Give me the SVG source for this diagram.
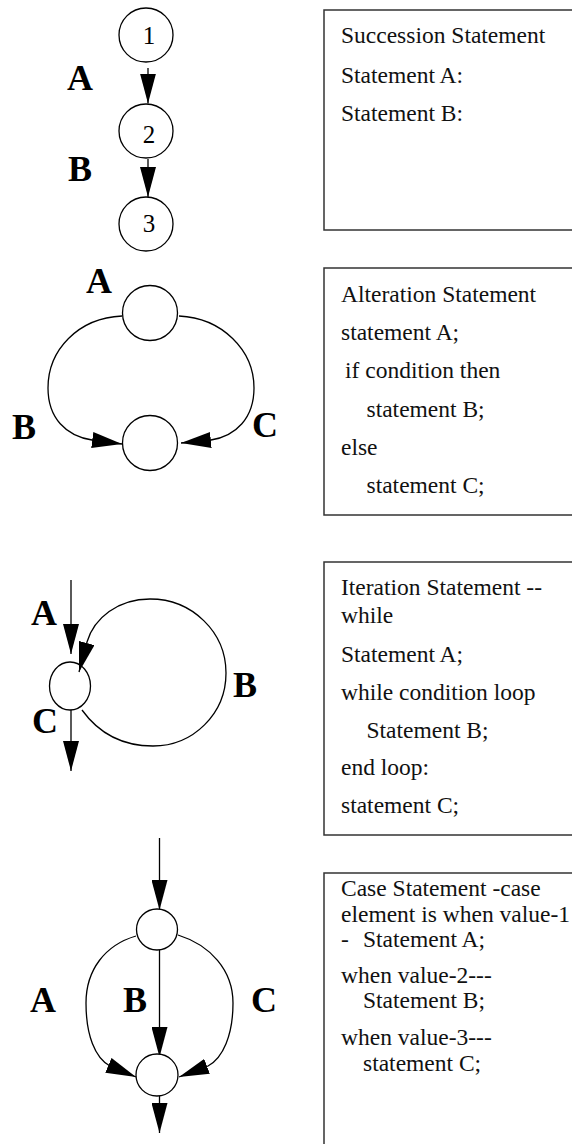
<svg xmlns="http://www.w3.org/2000/svg" width="572" height="1144" viewBox="0 0 572 1144">
  <style>
    .node { fill: #fff; stroke: #000; stroke-width: 1.3; }
    .edge { fill: none; stroke: #000; stroke-width: 1.3; marker-end: url(#ah); }
    .lbl { font-family: "Liberation Serif", "Times New Roman", serif; font-weight: bold; font-size: 36px; fill: #000; }
    .num { font-family: "Liberation Serif", "Times New Roman", serif; font-size: 25px; fill: #000; text-anchor: middle; }
    .box { fill: #fff; stroke: #333; stroke-width: 1.5; }
    .code { font-family: "Liberation Serif", "Times New Roman", serif; font-size: 23.5px; fill: #111; }
  </style>
  <defs>
    <marker id="ah" markerUnits="userSpaceOnUse" viewBox="0 0 30 16" markerWidth="30" markerHeight="16" refX="30" refY="8" orient="auto">
      <path d="M0,0 L30,8 L0,16 z" fill="#000"/>
    </marker>
  </defs>

  <!-- code boxes on the right -->
  <g id="box-succession">
    <rect class="box" x="324" y="10" width="260" height="220"/>
    <text class="code" x="341" y="43">Succession Statement</text>
    <text class="code" x="341" y="83">Statement A:</text>
    <text class="code" x="341" y="121">Statement B:</text>
  </g>
  <g id="box-alteration">
    <rect class="box" x="324" y="268" width="260" height="247"/>
    <text class="code" x="341" y="302">Alteration Statement</text>
    <text class="code" x="341" y="340">statement A;</text>
    <text class="code" x="345" y="378">if condition then</text>
    <text class="code" x="366.5" y="417">statement B;</text>
    <text class="code" x="341" y="455">else</text>
    <text class="code" x="366.5" y="493">statement C;</text>
  </g>
  <g id="box-iteration">
    <rect class="box" x="324" y="562" width="260" height="273"/>
    <text class="code" x="341" y="595">Iteration Statement --</text>
    <text class="code" x="341" y="623">while</text>
    <text class="code" x="341" y="662">Statement A;</text>
    <text class="code" x="341" y="700">while condition loop</text>
    <text class="code" x="366.5" y="738">Statement B;</text>
    <text class="code" x="341" y="775">end loop:</text>
    <text class="code" x="341" y="813">statement C;</text>
  </g>
  <g id="box-case">
    <rect class="box" x="324" y="873" width="260" height="290"/>
    <text class="code" x="341" y="896">Case Statement -case</text>
    <text class="code" x="341" y="922">element is when value-1</text>
    <text class="code" x="341" y="947">-</text>
    <text class="code" x="363" y="947">Statement A;</text>
    <text class="code" x="341" y="983">when value-2---</text>
    <text class="code" x="363" y="1008">Statement B;</text>
    <text class="code" x="341" y="1045">when value-3---</text>
    <text class="code" x="363" y="1071">statement C;</text>
  </g>

  <!-- connectors -->
  <g id="connectors">
    <!-- succession -->
    <path class="edge" d="M148,68 L148,103.5"/>
    <path class="edge" d="M148,159 L148,197"/>
    <!-- alteration -->
    <path class="edge" d="M122,316 C78,318 48,350 48,388 C48,418 66,436 92,440 L122,444"/>
    <path class="edge" d="M179,316 C222,318 254,350 254,388 C254,418 236,436 211,440 L181,443"/>
    <!-- iteration -->
    <path class="edge" d="M71,580 L71,654"/>
    <path class="edge" d="M82,710 C100,735 125,746 153,746 C193,746 226,714 226,673 C226,632 192,599 150,599 C118,599 94,618 87,642 L79,672"/>
    <path class="edge" d="M71,710 L71,771"/>
    <!-- case -->
    <path class="edge" d="M159.5,838 L159.5,910"/>
    <path class="edge" d="M159.5,950 L159.5,1057"/>
    <path class="edge" d="M136,936 C105,945 86,970 86,1003 C86,1035 95,1058 110,1066 L136,1077"/>
    <path class="edge" d="M178,935 C210,945 233,970 233,1003 C233,1035 223,1058 208,1066 L179,1077"/>
    <path class="edge" d="M159.5,1096 L159.5,1133"/>
  </g>

  <!-- succession nodes -->
  <g id="n1"><circle class="node" cx="146" cy="35" r="27"/><text class="num" x="149" y="44">1</text></g>
  <g id="n2"><circle class="node" cx="146" cy="131" r="27"/><text class="num" x="149" y="143">2</text></g>
  <g id="n3"><circle class="node" cx="146" cy="224" r="27"/><text class="num" x="149" y="232">3</text></g>
  <text class="lbl" x="67" y="90">A</text>
  <text class="lbl" x="68" y="181">B</text>

  <!-- alteration nodes -->
  <g id="alt-top"><circle class="node" cx="150" cy="313" r="27.5"/></g>
  <g id="alt-bottom"><circle class="node" cx="150" cy="443" r="27.5"/></g>
  <text class="lbl" x="86" y="293">A</text>
  <text class="lbl" x="12" y="439">B</text>
  <text class="lbl" x="252" y="437">C</text>

  <!-- iteration node -->
  <g id="iter"><ellipse class="node" cx="70" cy="686" rx="20.5" ry="24" fill-opacity="0"/></g>
  <text class="lbl" x="31" y="625">A</text>
  <text class="lbl" x="233" y="697">B</text>
  <text class="lbl" x="32" y="733">C</text>

  <!-- case nodes -->
  <g id="case-top"><circle class="node" cx="157" cy="929.5" r="20.5"/></g>
  <g id="case-bottom"><circle class="node" cx="157" cy="1075" r="21"/></g>
  <text class="lbl" x="30" y="1012">A</text>
  <text class="lbl" x="123" y="1012">B</text>
  <text class="lbl" x="251" y="1012">C</text>
</svg>
